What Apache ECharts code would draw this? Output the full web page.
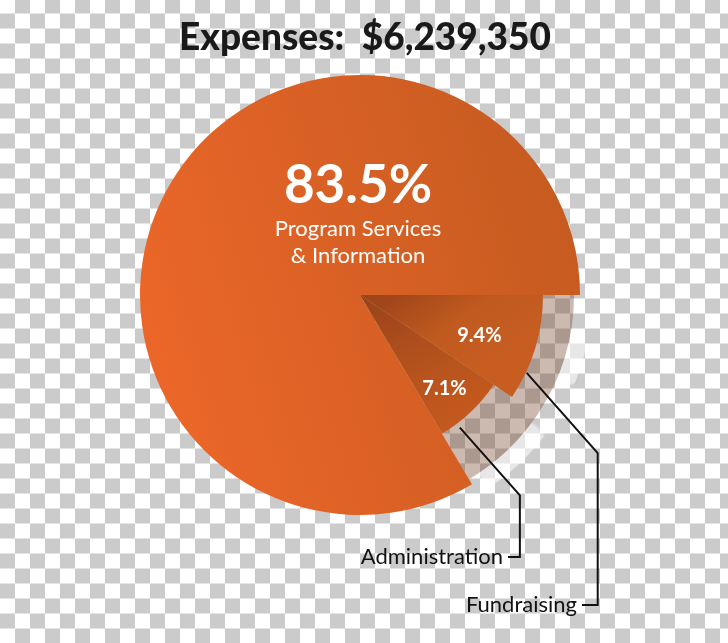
<!DOCTYPE html>
<html><head><meta charset="utf-8">
<script src="https://cdn.jsdelivr.net/npm/echarts@6/dist/echarts.min.js"></script>
<style>
html,body{margin:0;padding:0;}
body{width:728px;height:643px;background-color:#fff;background-image:conic-gradient(#cbcbcb 25%, transparent 0 50%, #cbcbcb 0 75%, transparent 0);background-size:30px 30px;background-position:0 -1.5px;}
#c{width:728px;height:643px;}
</style></head><body><div id="c"></div>
<script>
// ---- data ----
const titleText = 'Expenses:  $6,239,350';
const categories = ['Fundraising', 'Administration', 'Program Services & Information'];
const values = [9.4, 7.1, 83.5];
const pctLabels = ['9.4%', '7.1%', '83.5%'];
const mainLines = ['Program Services', '& Information'];

// ---- layout ----
const CX = 360, CY = 295;
const R_MAIN = 220, R_FUND = 183, R_ADMIN = 161;
const FONT = 'Lato, "Open Sans", sans-serif';
const total = values.reduce((a, b) => a + b, 0);
const starts = [];
let acc = 0;
values.forEach(v => { starts.push(acc / total * 360); acc += v; });
const spans = values.map(v => v / total * 360);
function pt(angDeg, r) {
  const a = angDeg * Math.PI / 180;
  return [CX + r * Math.cos(a), CY + r * Math.sin(a)];
}
const hidden = { color: 'rgba(0,0,0,0)' };
const G = echarts.graphic.LinearGradient;
const colors = [
  new G(0.2, 0, 0.6, 1, [{ offset: 0, color: '#a1461a' }, { offset: 0.45, color: '#c05a1f' }, { offset: 1, color: '#c85d21' }]),
  new G(0, 0, 0.6, 1, [{ offset: 0, color: '#98421a' }, { offset: 0.6, color: '#b6531d' }, { offset: 1, color: '#c5591e' }]),
  new G(0, 0.6, 1, 0.3, [{ offset: 0, color: '#ec6629' }, { offset: 1, color: '#c55b20' }])
];
function pieSeries(radius, showIdx, styleFn, z) {
  return {
    type: 'pie', center: [CX, CY], radius: radius, startAngle: 0, clockwise: true,
    silent: true, animation: false, avoidLabelOverlap: false, minAngle: 0, z: z,
    label: { show: false }, labelLine: { show: false }, emphasis: { disabled: true },
    data: values.map((v, i) => ({
      name: categories[i], value: v,
      itemStyle: showIdx.includes(i) ? styleFn(i) : hidden
    }))
  };
}

const series = [
  pieSeries([0, 214], [0, 1], () => ({ color: 'rgba(115,62,35,0.36)' }), 1),
  pieSeries([214, 232], [0, 1], () => ({ color: new echarts.graphic.RadialGradient(0.5, 0.5, 0.5, [{ offset: 0.9, color: 'rgba(255,255,255,0.55)' }, { offset: 1, color: 'rgba(255,255,255,0)' }]) }), 1),
  pieSeries([0, R_MAIN], [2], i => ({ color: colors[i] }), 2),
  pieSeries([0, R_FUND], [0], i => ({ color: colors[i] }), 3),
  pieSeries([0, R_ADMIN], [1], i => ({ color: colors[i] }), 3)
];

// percentage labels placed in polar coords from slice angles
const graphics = [];
[0, 1].forEach(i => {
  const mid = starts[i] + spans[i] * 0.55;
  const p = pt(mid, 126);
  graphics.push({ type: 'text', z: 10, style: { text: pctLabels[i], x: p[0], y: p[1], fill: '#fff', font: 'bold 20px ' + FONT, textAlign: 'center', textVerticalAlign: 'middle' } });
});
graphics.push({ type: 'text', z: 10, style: { text: pctLabels[2], x: CX - 2, y: CY - 109, fill: '#fff', font: 'bold 53px ' + FONT, textAlign: 'center', textVerticalAlign: 'middle' } });
graphics.push({ type: 'text', z: 10, style: { text: mainLines[0], x: CX - 2, y: CY - 66, fill: '#fff', font: '22px ' + FONT, textAlign: 'center', textVerticalAlign: 'middle' } });
graphics.push({ type: 'text', z: 10, style: { text: mainLines[1], x: CX - 2, y: CY - 39, fill: '#fff', font: '22px ' + FONT, textAlign: 'center', textVerticalAlign: 'middle' } });

// leader lines: diagonal, vertical, short horizontal
function leader(i, r, frac, dx, bottomY, tailX) {
  const s = pt(starts[i] + spans[i] * frac, r);
  const d = [s[0] + dx, s[1] + dx * 1.13];
  return [s, d, [d[0], bottomY], [tailX, bottomY]];
}
const fundPts = leader(0, R_FUND + 1, 0.74, 71, 605, 582);
const adminPts = leader(1, R_ADMIN + 5, 0.75, 60, 557, 508);
[fundPts, adminPts].forEach(p => {
  graphics.push({ type: 'polyline', z: 9, shape: { points: p }, style: { stroke: '#111', lineWidth: 2, fill: null } });
});
graphics.push({ type: 'text', z: 10, style: { text: categories[0], x: fundPts[3][0] - 5, y: 605, fill: '#111', font: '22px ' + FONT, textAlign: 'right', textVerticalAlign: 'middle' } });
graphics.push({ type: 'text', z: 10, style: { text: categories[1], x: adminPts[3][0] - 5, y: 557, fill: '#111', font: '22px ' + FONT, textAlign: 'right', textVerticalAlign: 'middle' } });

const chart = echarts.init(document.getElementById('c'), null, { renderer: 'canvas' });
chart.setOption({
  animation: false,
  backgroundColor: 'transparent',
  title: { text: titleText, left: CX, textAlign: 'center', top: 15, textStyle: { fontFamily: FONT, fontSize: 37, fontWeight: 900, color: '#1a1a1a' } },
  series: series,
  graphic: graphics
});
</script></body></html>
